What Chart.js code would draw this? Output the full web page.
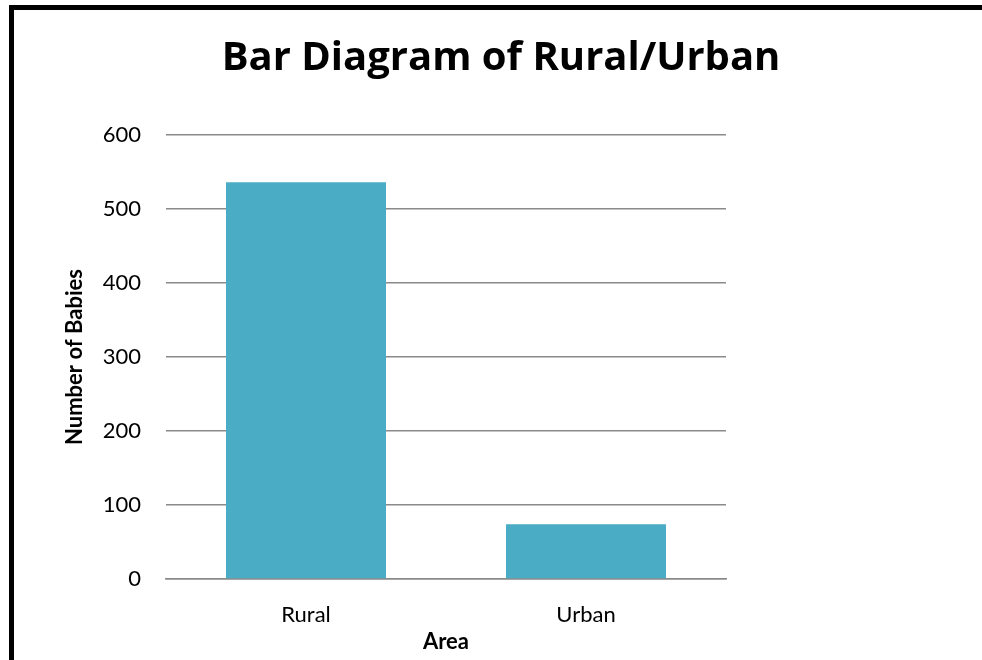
<!DOCTYPE html>
<html>
<head>
<meta charset="utf-8">
<script src="https://cdn.jsdelivr.net/npm/chart.js@4"></script>
<style>
  html, body { margin: 0; padding: 0; background: #fff; }
  #wrap { position: relative; width: 982px; height: 660px; overflow: hidden; }
  #frame { position: absolute; left: 9px; top: 5px; width: 2000px; height: 2000px;
           border-left: 5px solid #000; border-top: 5px solid #000; }
  canvas { position: absolute; left: 0; top: 0; }
</style>
</head>
<body>
<div id="wrap">
  <div id="frame"></div>
  <canvas id="chart" width="982" height="660"></canvas>
</div>
<script>
const categories = ['Rural', 'Urban'];
const babies = [536, 74];
const yTicks = [0, 100, 200, 300, 400, 500, 600];

const FONT = "Lato, 'Open Sans', sans-serif";
const GRID = '#8a8a8a';

new Chart(document.getElementById('chart'), {
  type: 'bar',
  data: {
    labels: categories,
    datasets: [{
      data: babies,
      backgroundColor: '#4BACC6',
      barPercentage: 0.5714,
      categoryPercentage: 1
    }]
  },
  options: {
    responsive: false,
    animation: false,
    layout: { padding: { left: 20, right: 0, top: 0, bottom: 0 } },
    plugins: {
      legend: { display: false },
      tooltip: { enabled: false },
      title: {
        display: true,
        text: 'Bar Diagram of Rural/Urban',
        color: '#000',
        font: { family: "'Open Sans', sans-serif", size: 40, weight: 'bold' },
        padding: { top: 35, bottom: 52 }
      }
    },
    scales: {
      x: {
        grid: { display: false },
        border: { display: true, color: GRID, width: 1.5 },
        ticks: { color: '#000', font: { family: FONT, size: 22 }, padding: 15 },
        title: {
          display: true, text: 'Area', color: '#000',
          font: { family: FONT, size: 22, weight: 'bold' },
          padding: { top: 0, bottom: 5 }
        },
        afterFit(s) { s.height = 81; }
      },
      y: {
        min: 0, max: 600,
        afterBuildTicks(s) { s.ticks = yTicks.map(v => ({ value: v })); },
        grid: { color: GRID, lineWidth: 1.5, drawTicks: false },
        border: { display: false },
        ticks: { color: '#000', font: { family: FONT, size: 22 }, padding: 25 },
        title: {
          display: true, text: 'Number of Babies', color: '#000',
          font: { family: FONT, size: 22, weight: 'bold' },
          padding: { top: 42, bottom: 0 }
        },
        afterFit(s) { s.width = 146; }
      },
      y2: {
        position: 'right',
        grid: { display: false },
        border: { display: false },
        ticks: { display: false },
        afterFit(s) { s.width = 256; }
      }
    }
  }
});
</script>
</body>
</html>
